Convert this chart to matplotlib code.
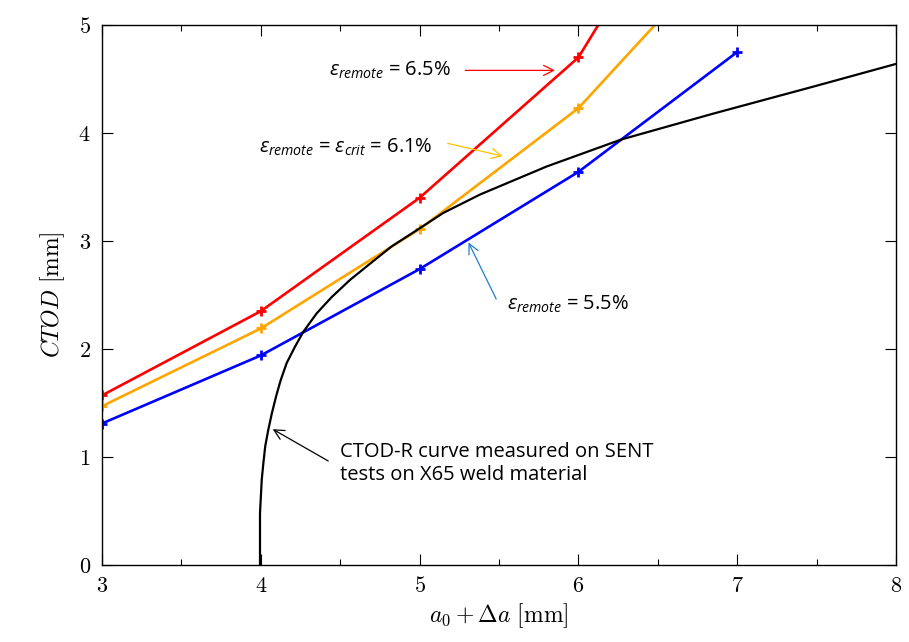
import numpy as np
import matplotlib
matplotlib.use("Agg")
import matplotlib.pyplot as plt
from matplotlib.ticker import MultipleLocator

plt.rcParams["mathtext.fontset"] = "cm"
plt.rcParams["mathtext.it"] = "Open Sans:italic"
plt.rcParams["mathtext.rm"] = "Open Sans"
plt.rcParams["axes.formatter.use_mathtext"] = True

# crack length points for the three remote strain levels
a_pts = [3, 4, 5, 6, 7]
ctod_65 = [1.57, 2.35, 3.40, 4.70, 7.10]
ctod_61 = [1.47, 2.19, 3.11, 4.23, 5.83]
ctod_55 = [1.31, 1.94, 2.74, 3.64, 4.75]

# CTOD-R curve
r_a = [3.995, 3.995, 4.006, 4.016, 4.028, 4.047, 4.069, 4.096, 4.125, 4.163,
       4.215, 4.268, 4.352, 4.446, 4.562, 4.688, 4.824, 4.982, 5.149, 5.38,
       5.80, 6.27, 6.85, 7.48, 8.0]
r_ctod = [0.0, 0.48, 0.79, 0.94, 1.10, 1.25, 1.40, 1.56, 1.71, 1.87,
          2.02, 2.16, 2.33, 2.48, 2.64, 2.79, 2.95, 3.10, 3.26, 3.43,
          3.69, 3.94, 4.18, 4.43, 4.64]

fig = plt.figure(figsize=(9.09, 6.42), dpi=100)
ax = fig.add_axes([0.1122, 0.12, 0.8735, 0.841])

ax.plot(a_pts, ctod_65, color="#FF0000", lw=1.9, marker="+", ms=7, mew=2)
ax.plot(a_pts, ctod_61, color="#FFA500", lw=1.9, marker="+", ms=7, mew=2)
ax.plot(a_pts, ctod_55, color="#0000FF", lw=1.9, marker="+", ms=7, mew=2)
ax.plot(r_a, r_ctod, color="black", lw=1.6, solid_joinstyle="round")

ax.set_xlim(3, 8)
ax.set_ylim(0, 5)
ax.xaxis.set_major_locator(MultipleLocator(1))
ax.xaxis.set_minor_locator(MultipleLocator(0.5))
ax.yaxis.set_major_locator(MultipleLocator(1))
ax.tick_params(which="both", direction="in", top=True, right=True, labelsize=16, pad=8)
ax.tick_params(which="major", length=8, width=0.8)
ax.tick_params(which="minor", length=4, width=0.8)
for lab in ax.get_xticklabels() + ax.get_yticklabels():
    lab.set_fontfamily("cmr10")
for s in ax.spines.values():
    s.set_linewidth(1.0)

ax.set_xlabel(r"$a_0 + \Delta a\ \mathrm{[mm]}$", fontsize=17, labelpad=4)
ax.set_ylabel(r"$CTOD\ \mathrm{[mm]}$", fontsize=17, labelpad=8)

fnt = "Open Sans"
fs = 14.5
ax.text(5.20, 4.58, r"$\varepsilon_{remote}$ = 6.5%", ha="right", va="center",
        fontsize=fs, family=fnt, math_fontfamily="custom")
ax.annotate("", xy=(5.87, 4.58), xytext=(5.27, 4.58),
            arrowprops=dict(arrowstyle="->", color="#FF0000", lw=0.9, mutation_scale=18))

ax.text(5.08, 3.87, r"$\varepsilon_{remote}$ = $\varepsilon_{crit}$ = 6.1%",
        ha="right", va="center", fontsize=fs, family=fnt, math_fontfamily="custom")
ax.annotate("", xy=(5.54, 3.78), xytext=(5.16, 3.91),
            arrowprops=dict(arrowstyle="->", color="#FFC000", lw=0.9, mutation_scale=18))

ax.text(5.55, 2.41, r"$\varepsilon_{remote}$ = 5.5%", ha="left", va="center",
        fontsize=fs, family=fnt, math_fontfamily="custom")
ax.annotate("", xy=(5.30, 3.01), xytext=(5.49, 2.44),
            arrowprops=dict(arrowstyle="->", color="#1F7FD0", lw=0.9, mutation_scale=18))

ax.text(4.50, 0.94, "CTOD-R curve measured on SENT\ntests on X65 weld material",
        ha="left", va="center", fontsize=fs, family=fnt, linespacing=1.25)
ax.annotate("", xy=(4.06, 1.27), xytext=(4.44, 0.95),
            arrowprops=dict(arrowstyle="->", color="black", lw=0.9, mutation_scale=18))

fig.savefig("out.png", dpi=100)
